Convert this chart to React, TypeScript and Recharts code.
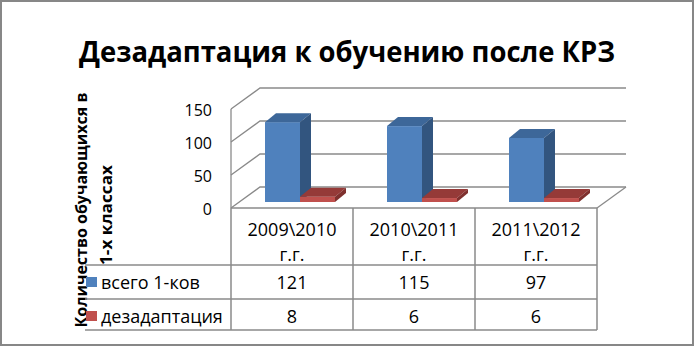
import { BarChart, Bar, XAxis, YAxis, CartesianGrid } from "recharts"

const categories = ["2009\\2010", "2010\\2011", "2011\\2012"]
const categorySuffix = "г.г."
const seriesNames = ["всего 1-ков", "дезадаптация"]
const totalPupils = [121, 115, 97]
const maladapted = [8, 6, 6]
const yTicks = [0, 50, 100, 150]

const data = categories.map((cat, i) => ({
  cat,
  total: totalPupils[i],
  bad: maladapted[i],
}))

const W = 694
const H = 346
// plane of the bar fronts
const plot = { left: 239, top: 103, right: 605, bottom: 202 }
const band = (plot.right - plot.left) / categories.length
const FRONT = { dx: -8, dy: 6 }
const BACK = { dx: 21, dy: -15 }
const BAR_DX = 11
const BAR_DY = 9
const GRID = "#8a8a8a"
const FONT = "'Open Sans', sans-serif"

const colors = [
  { front: "#4f81bd", top: "#3d6799", side: "#32557f", key: "#4f81bd" },
  { front: "#c0504d", top: "#953a38", side: "#7f302e", key: "#c0504d" },
]

const bar3d = (c: { front: string; top: string; side: string }) => (p: any) => {
  const { x, y, width: w, height: h } = p
  if (w == null || h == null) return <g />
  return (
    <g>
      <rect x={x} y={y} width={w} height={h} fill={c.front} />
      <polygon
        points={`${x},${y} ${x + BAR_DX},${y - BAR_DY} ${x + w + BAR_DX},${y - BAR_DY} ${x + w},${y}`}
        fill={c.top}
      />
      <polygon
        points={`${x + w},${y} ${x + w + BAR_DX},${y - BAR_DY} ${x + w + BAR_DX},${y + h - BAR_DY} ${x + w},${y + h}`}
        fill={c.side}
      />
    </g>
  )
}

const wallLine = (p: any) => {
  const y = p.y1
  const pts = [
    [p.x1 + FRONT.dx, y + FRONT.dy],
    [p.x1 + BACK.dx, y + BACK.dy],
    [p.x2 + BACK.dx, y + BACK.dy],
  ]
  return (
    <polyline
      key={`wall-${p.index}`}
      points={pts.map((q) => q.join(",")).join(" ")}
      fill="none"
      stroke={GRID}
      strokeWidth={1.3}
    />
  )
}

const yTick = (p: any) => (
  <text
    x={plot.left - 27}
    y={p.y + FRONT.dy + 1}
    textAnchor="end"
    dominantBaseline="central"
    fontFamily={FONT}
    fontSize={16}
    fill="#000"
  >
    {p.payload.value}
  </text>
)

export default function App() {
  const tableLeft = plot.left + FRONT.dx
  const floorY = plot.bottom + FRONT.dy
  const rowY = [floorY, 265, 299, 330]
  const labelLeft = 85
  const colX = categories.map((_, i) => tableLeft + i * band)
  const tableRight = tableLeft + categories.length * band
  const rows = [totalPupils, maladapted]
  const yAxisW = 40

  return (
    <div style={{ position: "relative", width: W, height: H, background: "#fff" }}>
      <style>{"body{margin:0}"}</style>
      <div style={{ position: "absolute", left: 0, top: 0 }}>
        <BarChart
          width={W}
          height={H}
          data={data}
          margin={{ top: plot.top, right: W - plot.right, bottom: H - plot.bottom, left: plot.left - yAxisW }}
          barCategoryGap={26}
          barGap={0}
        >
          <CartesianGrid vertical={false} horizontal={wallLine} />
          <XAxis dataKey="cat" hide />
          <YAxis
            domain={[0, 150]}
            ticks={yTicks}
            width={yAxisW}
            axisLine={false}
            tickLine={false}
            interval={0}
            tick={yTick}
          />
          <Bar dataKey="total" name={seriesNames[0]} shape={bar3d(colors[0])} isAnimationActive={false} />
          <Bar dataKey="bad" name={seriesNames[1]} shape={bar3d(colors[1])} isAnimationActive={false} />
        </BarChart>
      </div>
      <svg
        width={W}
        height={H}
        style={{ position: "absolute", left: 0, top: 0, pointerEvents: "none" }}
      >
        <text
          x={347}
          y={62}
          textAnchor="middle"
          fontFamily={FONT}
          fontWeight={700}
          fontSize={29}
          textLength={536}
          lengthAdjust="spacingAndGlyphs"
        >
          Дезадаптация к обучению после КРЗ
        </text>
        <text
          transform="translate(87,210) rotate(-90)"
          textAnchor="middle"
          fontFamily={FONT}
          fontWeight={700}
          fontSize={16}
          textLength={235}
          lengthAdjust="spacingAndGlyphs"
        >
          Количество обучающихся в
        </text>
        <text
          transform="translate(112,215) rotate(-90)"
          textAnchor="middle"
          fontFamily={FONT}
          fontWeight={700}
          fontSize={16}
          textLength={100}
          lengthAdjust="spacingAndGlyphs"
        >
          1-х классах
        </text>

        {/* wall edge and floor */}
        <line x1={tableLeft} y1={plot.top + FRONT.dy} x2={tableLeft} y2={floorY} stroke={GRID} strokeWidth={1.3} />
        <line x1={tableRight} y1={floorY} x2={tableRight + BACK.dx - FRONT.dx} y2={plot.bottom + BACK.dy} stroke={GRID} strokeWidth={1.3} />

        {/* data table */}
        <line x1={tableLeft} y1={rowY[0]} x2={tableRight} y2={rowY[0]} stroke={GRID} strokeWidth={1.5} />
        {rowY.slice(1).map((y) => (
          <line key={y} x1={labelLeft} y1={y} x2={tableRight} y2={y} stroke={GRID} strokeWidth={1.5} />
        ))}
        {[...colX, tableRight].map((x) => (
          <line key={x} x1={x} y1={rowY[0]} x2={x} y2={rowY[3]} stroke={GRID} strokeWidth={1.5} />
        ))}
        {categories.map((c, i) => (
          <g key={c}>
            <text x={colX[i] + band / 2} y={236} textAnchor="middle" fontFamily={FONT} fontSize={18}>
              {c}
            </text>
            <text x={colX[i] + band / 2} y={261} textAnchor="middle" fontFamily={FONT} fontSize={18}>
              {categorySuffix}
            </text>
          </g>
        ))}
        {rows.map((vals, r) => (
          <g key={r}>
            <rect x={86} y={rowY[r + 1] + 12} width={11} height={10} fill={colors[r].key} />
            <text x={101} y={rowY[r + 1] + 24} fontFamily={FONT} fontSize={18}>
              {seriesNames[r]}
            </text>
            {vals.map((v, i) => (
              <text key={i} x={colX[i] + band / 2} y={rowY[r + 1] + 24} textAnchor="middle" fontFamily={FONT} fontSize={18}>
                {v}
              </text>
            ))}
          </g>
        ))}

        <rect x={1} y={1} width={W - 2} height={H - 2} fill="none" stroke="#878787" strokeWidth={2} />
      </svg>
    </div>
  )
}
